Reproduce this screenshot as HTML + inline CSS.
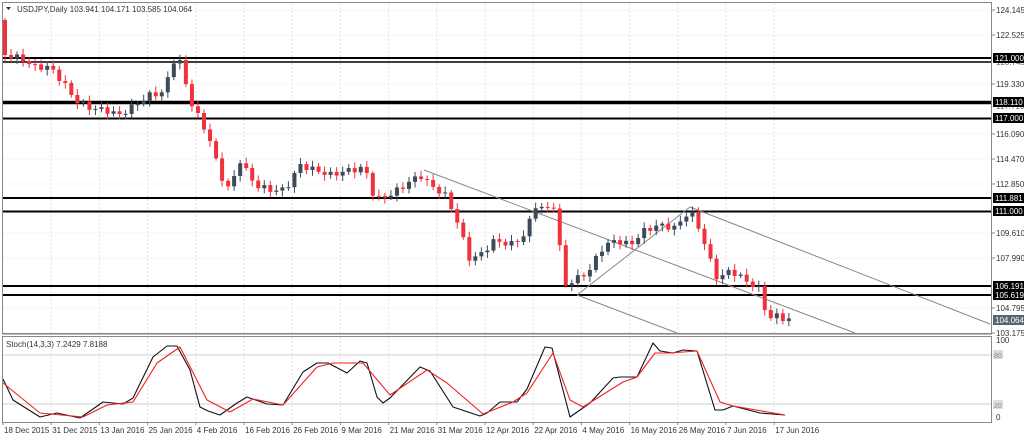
<!DOCTYPE html>
<html><head><meta charset="utf-8"><style>
html,body{margin:0;padding:0;background:#fff;width:1024px;height:438px;overflow:hidden}
svg text{font-family:"Liberation Sans",sans-serif;font-size:8px;fill:#333}
</style></head><body>
<svg id="s" width="1024" height="438" xmlns="http://www.w3.org/2000/svg">
<rect x="0" y="0" width="1024" height="438" fill="#fff"/>
<g id="grid"></g>
<g id="hl">
<line x1="2" x2="992" y1="58" y2="58" stroke="#000" stroke-width="2"/>
<line x1="2" x2="992" y1="62" y2="62" stroke="#000" stroke-width="1.5"/>
<line x1="2" x2="992" y1="102.5" y2="102.5" stroke="#000" stroke-width="3.5"/>
<line x1="2" x2="992" y1="118.5" y2="118.5" stroke="#000" stroke-width="2"/>
<line x1="2" x2="992" y1="198" y2="198" stroke="#000" stroke-width="2"/>
<line x1="2" x2="992" y1="211.5" y2="211.5" stroke="#000" stroke-width="2"/>
<line x1="2" x2="992" y1="286" y2="286" stroke="#000" stroke-width="2"/>
<line x1="2" x2="992" y1="295" y2="295" stroke="#000" stroke-width="2"/>
</g>
<g stroke="#888" stroke-width="1" fill="none">
<line x1="424" y1="170" x2="855" y2="333"/>
<line x1="577" y1="295" x2="677" y2="333"/>
<line x1="690" y1="207" x2="990" y2="324"/>
<line x1="577" y1="295" x2="690" y2="207"/>
</g>
<g id="candles"></g>
<g id="stoch"></g>
<rect x="2.5" y="2.5" width="989" height="331" fill="none" stroke="#888"/>
<rect x="2.5" y="336.5" width="989" height="86" fill="none" stroke="#888"/>
<line x1="2" x2="992" y1="334.5" y2="334.5" stroke="#bbb"/>
<text x="17" y="12">USDJPY,Daily  103.941 104.171 103.585 104.064</text>
<path d="M6 7 L11 7 L8.5 10 Z" fill="#333"/>
<text x="6" y="347">Stoch(14,3,3) 7.2429 7.8188</text>
<g id="axis"></g>
</svg>
<script>
(function(){
var NS='http://www.w3.org/2000/svg';
function el(p,t,a,txt){var e=document.createElementNS(NS,t);for(var k in a)e.setAttribute(k,a[k]);if(txt!=null)e.textContent=txt;document.getElementById(p).appendChild(e);return e;}
var dates=["18 Dec 2015","31 Dec 2015","13 Jan 2016","25 Jan 2016","4 Feb 2016","16 Feb 2016","26 Feb 2016","9 Mar 2016","21 Mar 2016","31 Mar 2016","12 Apr 2016","22 Apr 2016","4 May 2016","16 May 2016","26 May 2016","7 Jun 2016","17 Jun 2016"];
for(var i=0;i<dates.length;i++){var gx=3+i*48.2;
 if(i>0){el('grid','line',{x1:gx,x2:gx,y1:3,y2:333,stroke:'#e2e2e2','stroke-dasharray':'2,2'});el('grid','line',{x1:gx,x2:gx,y1:337,y2:422,stroke:'#e2e2e2','stroke-dasharray':'2,2'});}
 el('axis','line',{x1:gx,x2:gx,y1:422,y2:425,stroke:'#888'});
 el('axis','text',{x:gx+1,y:433},dates[i]);}
var ticks=[[124.145,10],[122.525,35],[119.330,84],[116.090,134],[114.470,159],[112.850,184],[109.610,233],[107.990,258],[104.795,308],[103.175,333]];
ticks.forEach(function(t){el('grid','line',{x1:3,x2:991,y1:t[1],y2:t[1],stroke:'#ececec','stroke-dasharray':'2,2'});
 el('axis','line',{x1:992,x2:995,y1:t[1],y2:t[1],stroke:'#888'});el('axis','text',{x:996,y:t[1]+3},t[0].toFixed(3));});
el('axis','text',{x:996,y:65,style:'fill:#666'},'120.745');
el('axis','text',{x:996,y:109,style:'fill:#666'},'117.710');
var boxes=[[58,'121.000'],[102,'118.110'],[118,'117.000'],[198,'111.881'],[211,'111.000'],[286,'106.191'],[295,'105.619']];
boxes.forEach(function(b){el('axis','rect',{x:993,y:b[0]-5,width:31,height:10,fill:'#000'});el('axis','text',{x:995,y:b[0]+3,style:'fill:#fff'},b[1]);});
el('axis','rect',{x:993,y:315,width:31,height:10,fill:'#5a6470'});el('axis','text',{x:995,y:323,style:'fill:#fff'},'104.064');
el('grid','line',{x1:3,x2:991,y1:355,y2:355,stroke:'#ccc'});el('grid','line',{x1:3,x2:991,y1:404,y2:404,stroke:'#ccc'});
el('axis','text',{x:996,y:343},'100');el('axis','text',{x:996,y:420},'0');
el('axis','rect',{x:993,y:350,width:10,height:9,fill:'#ddd'});el('axis','text',{x:994,y:358,style:'fill:#888;font-size:7px'},'80');
el('axis','rect',{x:993,y:400,width:10,height:9,fill:'#ddd'});el('axis','text',{x:994,y:408,style:'fill:#888;font-size:7px'},'20');
function interp(k,x){if(x<=k[0][0])return k[0][1];for(var i=1;i<k.length;i++){if(x<=k[i][0]){var a=k[i-1],b=k[i];return a[1]+(b[1]-a[1])*(x-a[0])/(b[0]-a[0]);}}return k[k.length-1][1];}
var K=[[5,55],[20,58],[35,67],[50,67],[65,85],[75,100],[90,108],[105,110],[120,115],[135,105],[150,95],[165,92],[172,60],[180,62],[190,100],[200,120],[210,140],[220,175],[230,190],[240,160],[255,185],[270,190],[285,190],[300,165],[315,170],[330,175],[350,170],[365,168],[375,200],[390,195],[405,185],[420,175],[430,185],[445,195],[455,215],[465,245],[470,260],[480,255],[495,240],[510,245],[525,235],[535,205],[545,210],[555,205],[560,250],[565,285],[575,280],[590,270],[600,250],[615,240],[630,245],[645,230],[660,225],[675,228],[690,210],[700,230],[710,260],[718,280],[730,270],[745,280],[760,290],[768,320],[775,315],[788,320]];
var prev=20;
for(var i=0;i<131;i++){var cx=5+i*6.03;var c=interp(K,cx)+Math.sin(i*2.3)*3;var o=prev;prev=c;
 var tp=Math.min(o,c),bt=Math.max(o,c);if(bt-tp<1)bt=tp+1;
 var col=c>o?'#f0323c':'#3d4a5a';
 el('candles','line',{x1:cx,x2:cx,y1:tp-2-Math.abs(Math.sin(i*1.7))*4,y2:bt+2+Math.abs(Math.cos(i*1.3))*4,stroke:col});
 el('candles','rect',{x:cx-2,y:tp,width:4,height:bt-tp,fill:col});}
var B=[[3,379],[13,400],[40,417],[57,413],[80,418],[103,402],[123,404],[133,398],[153,357],[167,346],[177,346],[190,370],[200,407],[208,411],[220,415],[237,403],[247,397],[267,404],[283,405],[303,372],[317,363],[328,363],[347,373],[360,361],[367,363],[377,397],[383,403],[390,398],[420,367],[430,371],[453,407],[480,416],[487,413],[500,402],[517,402],[527,389],[545,347],[552,348],[570,417],[590,403],[613,378],[620,377],[637,377],[653,343],[660,351],[673,353],[683,350],[697,351],[715,410],[723,410],[733,406],[760,413],[785,415]];
var R=[[3,383],[40,413],[83,417],[107,405],[133,402],[157,363],[180,347],[207,400],[230,412],[253,399],[283,405],[317,367],[333,363],[363,363],[390,395],[427,370],[447,383],[483,414],[513,402],[527,393],[553,353],[570,400],[583,407],[623,382],[637,377],[655,353],[670,353],[697,351],[720,402],[733,406],[785,415]];
function pts(a){return a.map(function(p){return p[0]+','+p[1]}).join(' ');}
el('stoch','polyline',{points:pts(B),fill:'none',stroke:'#111','stroke-width':1.1,'stroke-linejoin':'round'});
el('stoch','polyline',{points:pts(R),fill:'none',stroke:'#f02020','stroke-width':1.1,'stroke-linejoin':'round'});
})();
</script>
</body></html>
